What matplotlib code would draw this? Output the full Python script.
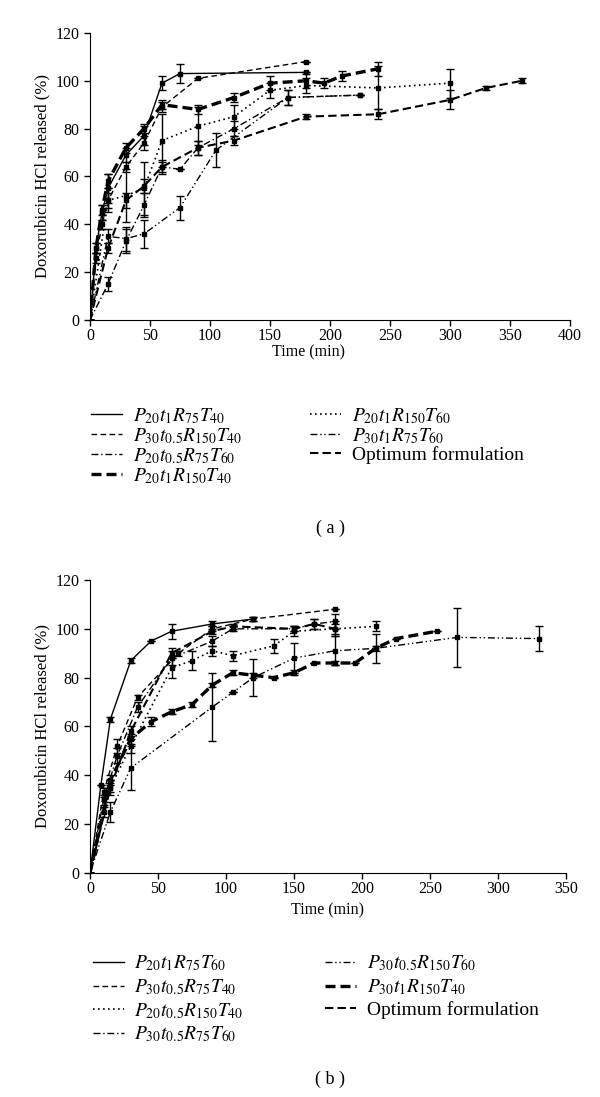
import matplotlib
matplotlib.use("Agg")
import matplotlib.pyplot as plt

plt.rcParams['font.family'] = ['Liberation Serif', 'DejaVu Serif']
plt.rcParams['mathtext.fontset'] = 'stix'

# ---- panel (a) data: time (min), release (%), error ----
a_names = [r'$P_{20}t_1R_{75}T_{40}$', r'$P_{30}t_{0.5}R_{150}T_{40}$',
           r'$P_{20}t_{0.5}R_{75}T_{60}$', r'$P_{20}t_1R_{150}T_{40}$',
           r'$P_{20}t_1R_{150}T_{60}$', r'$P_{30}t_1R_{75}T_{60}$',
           'Optimum formulation']
a_t1 = [0, 5, 10, 15, 30, 45, 60, 75, 180]
a_y1 = [0, 30, 45, 55, 69, 77, 99, 103, 103.5]
a_e1 = [0, 2, 3, 6, 3, 4, 3, 4, 0]
a_t2 = [0, 5, 10, 15, 30, 45, 60, 90, 180]
a_y2 = [0, 26, 40, 50, 64, 74, 89, 101, 108]
a_e2 = [0, 2, 2, 3, 2, 3, 2, 0, 0]
a_t3 = [0, 15, 30, 45, 60, 75, 90, 120, 165, 225]
a_y3 = [0, 15, 33, 48, 64, 63, 72, 80, 93, 94]
a_e3 = [0, 3, 5, 5, 3, 0, 3, 3, 3, 0]
a_t4 = [0, 5, 10, 15, 30, 45, 60, 90, 120, 150, 180, 195, 210, 240]
a_y4 = [0, 30, 46, 58, 72, 80, 90, 88, 93, 99, 100, 99, 102, 105]
a_e4 = [0, 2, 2, 3, 2, 2, 2, 2, 2, 3, 3, 2, 2, 3]
a_t5 = [0, 15, 30, 45, 60, 90, 120, 150, 180, 240, 300]
a_y5 = [0, 50, 52, 55, 75, 81, 85, 96, 98, 97, 99]
a_e5 = [0, 5, 11, 11, 11, 8, 5, 3, 3, 9, 6]
a_t6 = [0, 15, 30, 45, 75, 105, 165, 225]
a_y6 = [0, 35, 34, 36, 47, 71, 93, 94]
a_e6 = [0, 3, 5, 6, 5, 7, 3, 0]
a_t7 = [0, 15, 30, 45, 60, 90, 120, 180, 240, 300, 330, 360]
a_y7 = [0, 30, 50, 56, 64, 72, 75, 85, 86, 92, 97, 100]
a_e7 = [0, 2, 3, 3, 2, 3, 2, 1, 2, 4, 1, 1]

# ---- panel (b) data ----
b_names = [r'$P_{20}t_1R_{75}T_{60}$', r'$P_{30}t_{0.5}R_{75}T_{40}$',
           r'$P_{20}t_{0.5}R_{150}T_{40}$', r'$P_{30}t_{0.5}R_{75}T_{60}$',
           r'$P_{30}t_{0.5}R_{150}T_{60}$', r'$P_{30}t_1R_{150}T_{40}$',
           'Optimum formulation']
b_t1 = [0, 8, 15, 30, 45, 60, 90, 120]
b_y1 = [0, 36, 63, 87, 95, 99, 102, 104]
b_e1 = [0, 0, 1, 1, 0, 3, 1, 1]
b_t2 = [0, 10, 20, 35, 65, 90, 120, 180]
b_y2 = [0, 33, 52, 72, 90, 100, 104, 108]
b_e2 = [0, 2, 3, 1, 1, 1, 1, 0]
b_t3 = [0, 10, 15, 30, 60, 75, 90, 105, 135, 150, 180, 210]
b_y3 = [0, 25, 35, 52, 84, 87, 91, 89, 93, 99, 100, 101]
b_e3 = [0, 2, 3, 3, 4, 4, 2, 2, 3, 2, 3, 2]
b_t4 = [0, 10, 20, 35, 60, 90, 105, 150, 165, 180]
b_y4 = [0, 30, 48, 68, 88, 95, 100, 100, 102, 103]
b_e4 = [0, 2, 3, 2, 3, 2, 1, 1, 2, 3]
b_t5 = [0, 15, 30, 90, 105, 120, 150, 180, 210, 270, 330]
b_y5 = [0, 25, 43, 68, 74, 80, 88, 91, 92, 96.5, 96]
b_e5 = [0, 4, 9, 14, 0, 7.5, 6, 6, 6, 12, 5]
b_t6 = [0, 15, 30, 45, 60, 75, 90, 105, 120, 135, 150, 165, 180, 195, 210, 225, 255]
b_y6 = [0, 38, 55, 62, 66, 69, 77, 82, 81, 80, 82, 86, 86, 86, 92, 96, 99]
b_e6 = [0, 2, 2, 2, 1, 1, 1, 1, 1, 0, 1, 0, 1, 0, 1, 0, 0]
b_t7 = [0, 15, 30, 60, 90, 105, 150, 165, 180]
b_y7 = [0, 35, 58, 90, 99, 101, 100, 102, 100]
b_e7 = [0, 2, 2, 2, 1, 1, 1, 2, 2]

styles = [
    dict(ls='-', lw=1.0),
    dict(ls=(0, (4, 2.5)), lw=1.0),
    dict(ls=(0, (5, 2, 1, 2)), lw=1.0),
    dict(ls=(0, (3, 1.5)), lw=2.4),
    dict(ls=(0, (1, 2)), lw=1.2),
    dict(ls=(0, (5, 2, 1, 2, 1, 2)), lw=1.0),
    dict(ls=(0, (4, 2)), lw=1.5),
]
b_styles = [
    dict(ls='-', lw=1.0),
    dict(ls=(0, (4, 2.5)), lw=1.0),
    dict(ls=(0, (1, 2)), lw=1.2),
    dict(ls=(0, (5, 2, 1, 2)), lw=1.0),
    dict(ls=(0, (5, 2, 1, 2, 1, 2)), lw=1.0),
    dict(ls=(0, (3, 1.5)), lw=2.4),
    dict(ls=(0, (4, 2)), lw=1.5),
]


def draw_panel(ax, series, names, sty, xmax, xstep):
    handles = []
    for (t, y, e), name, s in zip(series, names, sty):
        ax.errorbar(t, y, yerr=e, fmt='none', ecolor='black', elinewidth=1.0,
                    capsize=3, capthick=1.0, zorder=2)
        h, = ax.plot(t, y, color='black', marker='s', ms=3.3, label=name,
                     markevery=list(range(1, len(t))), zorder=3, **s)
        handles.append(h)
    ax.set_xlim(0, xmax)
    ax.set_ylim(0, 120)
    ax.set_xticks(range(0, xmax + 1, xstep))
    ax.set_yticks(range(0, 121, 20))
    for sp in ['top', 'right']:
        ax.spines[sp].set_visible(False)
    ax.tick_params(labelsize=11.5, direction='out', length=4, width=1)
    ax.tick_params(axis='x', pad=2)
    ax.set_xlabel('Time (min)', fontsize=11.5)
    ax.set_ylabel('Doxorubicin HCl released (%)', fontsize=12)
    return handles


def add_legend(ax, handles, names, x, y, colsp, lsp):
    for h in handles:
        h.set_marker('None')
    ax.legend(handles, names, ncol=2, loc='upper left', frameon=False,
              bbox_to_anchor=(x, y), bbox_transform=fig.transFigure,
              fontsize=14, handlelength=1.6, handletextpad=0.55,
              columnspacing=colsp, labelspacing=lsp)
    for h in handles:
        h.set_marker('s')


fig = plt.figure(figsize=(6, 10.97), dpi=100)

ax1 = fig.add_axes([0.15, 0.7083, 0.80, 0.2617])
a_series = [(a_t1, a_y1, a_e1), (a_t2, a_y2, a_e2), (a_t3, a_y3, a_e3),
            (a_t4, a_y4, a_e4), (a_t5, a_y5, a_e5), (a_t6, a_y6, a_e6),
            (a_t7, a_y7, a_e7)]
h1 = draw_panel(ax1, a_series, a_names, styles, 400, 50)
ax1.xaxis.set_label_coords(0.455, -0.085)
add_legend(ax1, h1, a_names, 0.122, 0.646, 3.5, 0.02)
fig.text(0.55, 0.518, '( a )', ha='center', va='center', fontsize=13)

ax2 = fig.add_axes([0.15, 0.2042, 0.7933, 0.2671])
b_series = [(b_t1, b_y1, b_e1), (b_t2, b_y2, b_e2), (b_t3, b_y3, b_e3),
            (b_t4, b_y4, b_e4), (b_t5, b_y5, b_e5), (b_t6, b_y6, b_e6),
            (b_t7, b_y7, b_e7)]
h2 = draw_panel(ax2, b_series, b_names, b_styles, 350, 50)
add_legend(ax2, h2, b_names, 0.125, 0.1465, 4.2, 0.2)
fig.text(0.55, 0.016, '( b )', ha='center', va='center', fontsize=13)

fig.savefig('out.png', dpi=100)
